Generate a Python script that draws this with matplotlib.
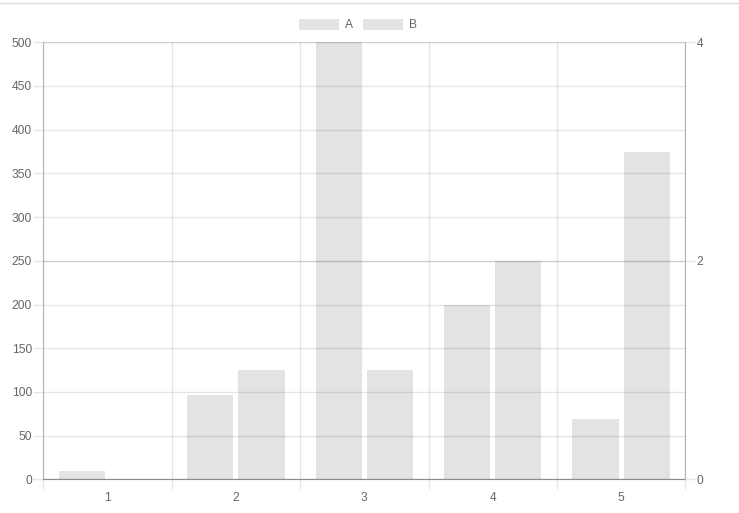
import matplotlib
matplotlib.use("Agg")
import matplotlib.pyplot as plt
from matplotlib.lines import Line2D
from matplotlib.patches import Patch
import numpy as np

categories = ["1", "2", "3", "4", "5"]
series_a = [10, 96, 500, 200, 69]
series_b = [0, 1, 1, 2, 3]
left_ticks = list(range(0, 501, 50))
right_ticks = [0, 2, 4]

plt.rcParams['font.family'] = ['Liberation Sans', 'DejaVu Sans']
W, H = 739, 513
fig = plt.figure(figsize=(W / 100, H / 100), dpi=100)
x0, x1, ytop, ybot = 43.3, 685.3, 42.3, 479.3
ax = fig.add_axes([x0 / W, 1 - ybot / H, (x1 - x0) / W, (ybot - ytop) / H])
ax2 = ax.twinx()

grid_c = "#000000"
grid_a = 0.1
tick_c = "#e6e6e6"
bar_c = "#0000001c"
txt_c = "#666666"
fs = 8.64

x = np.arange(len(categories))
bw = 0.36
ax.bar(x - 0.2, series_a, width=bw, color=bar_c, linewidth=0, zorder=3)
ax2.bar(x + 0.2, series_b, width=bw, color=bar_c, linewidth=0, zorder=3)

ax.set_xlim(-0.5, len(categories) - 0.5)
ax.set_ylim(0, 500)
ax2.set_ylim(0, 4)

ax.set_yticks(left_ticks)
ax2.set_yticks(right_ticks)
ax.set_xticks(x)
ax.set_xticklabels(categories)
ax.set_xticks(np.arange(-0.5, len(categories), 1), minor=True)

ax.set_axisbelow(True)
ax.grid(axis='y', which='major', color=grid_c, alpha=grid_a, linewidth=1)
ax.grid(axis='x', which='minor', color=grid_c, alpha=grid_a, linewidth=1)
ax.grid(axis='x', which='major', visible=False)
ax2.grid(axis='y', which='major', color=grid_c, alpha=grid_a, linewidth=1)
ax2.set_axisbelow(True)

ax.tick_params(axis='y', length=7.2, width=1, color=tick_c, pad=1, labelsize=fs, labelcolor=txt_c)
ax2.tick_params(axis='y', length=7.2, width=1, color=tick_c, pad=1, labelsize=fs, labelcolor=txt_c)
ax.tick_params(axis='x', which='major', length=0, pad=9, labelsize=fs, labelcolor=txt_c)
ax.tick_params(axis='x', which='minor', length=7.2, width=1, color=tick_c)

for a in (ax, ax2):
    for s in a.spines.values():
        s.set_visible(False)
        s.set_linewidth(0.8)
ax.spines['left'].set_visible(True)
ax.spines['left'].set_color("#b3b3b3")
ax.spines['bottom'].set_visible(True)
ax.spines['bottom'].set_color("#8c8c8c")
ax2.spines['right'].set_visible(True)
ax2.spines['right'].set_color("#b3b3b3")

# top border line of the page
fig.add_artist(Line2D([0, 1], [1 - 2.5 / H, 1 - 2.5 / H], color="#dddddd", linewidth=1, transform=fig.transFigure))

handles = [Patch(facecolor=bar_c, edgecolor='none', label='A'),
           Patch(facecolor=bar_c, edgecolor='none', label='B')]
fig.legend(handles=handles, loc='center', bbox_to_anchor=(358 / W, 1 - 25 / H),
           ncol=2, frameon=False, fontsize=fs, labelcolor=txt_c,
           handlelength=40 / 12, handleheight=1.0, handletextpad=0.5,
           columnspacing=0.9, borderpad=0)

fig.savefig("out.png", dpi=100)
